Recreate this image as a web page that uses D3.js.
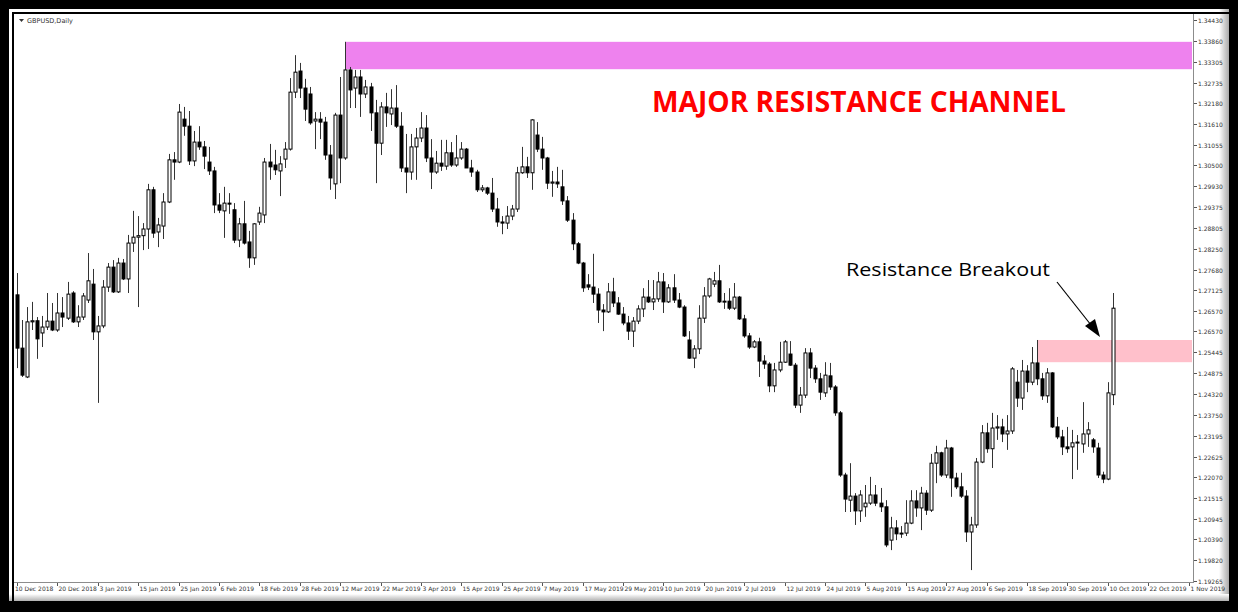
<!DOCTYPE html>
<html><head><meta charset="utf-8">
<script src="https://cdn.jsdelivr.net/npm/d3@7"></script>
<style>html,body{margin:0;padding:0;background:#000;overflow:hidden}svg{display:block}</style>
</head><body>
<svg id="c" width="1238" height="612"></svg>
<script>
// ---- data (GBPUSD, Daily) ----
const symbolTitle = "GBPUSD,Daily";
const xTickLabels = ["10 Dec 2018","20 Dec 2018","3 Jan 2019","15 Jan 2019","25 Jan 2019","6 Feb 2019","18 Feb 2019","28 Feb 2019","12 Mar 2019","22 Mar 2019","3 Apr 2019","15 Apr 2019","25 Apr 2019","7 May 2019","17 May 2019","29 May 2019","10 Jun 2019","20 Jun 2019","2 Jul 2019","12 Jul 2019","24 Jul 2019","5 Aug 2019","15 Aug 2019","27 Aug 2019","6 Sep 2019","18 Sep 2019","30 Sep 2019","10 Oct 2019","22 Oct 2019","1 Nov 2019"];
const barsPerXTick = 8;
const yTickValues = [1.34430,1.33860,1.33305,1.32735,1.32180,1.31610,1.31055,1.30500,1.29930,1.29375,1.28805,1.28250,1.27680,1.27125,1.26570,1.26010,1.25445,1.24875,1.24320,1.23750,1.23195,1.22625,1.22070,1.21515,1.20945,1.20390,1.19820,1.19265];
const yTickLabels = ["1.34430","1.33860","1.33305","1.32735","1.32180","1.31610","1.31055","1.30500","1.29930","1.29375","1.28805","1.28250","1.27680","1.27125","1.26570","1.26570","1.25445","1.24875","1.24320","1.23750","1.23195","1.22625","1.22070","1.21515","1.20945","1.20390","1.19820","1.19265"];

const open = [1.2700,1.2556,1.2478,1.2627,1.2630,1.2597,1.2613,1.2629,1.2605,1.2651,1.2637,1.2705,1.2627,1.2640,1.2686,1.2729,1.2600,1.2616,1.2721,1.2775,1.2708,1.2786,1.2743,1.2840,1.2856,1.2860,1.2878,1.2984,1.2870,1.2886,1.2951,1.3065,1.3059,1.3175,1.3156,1.3062,1.3113,1.3100,1.3059,1.3035,1.2943,1.2927,1.2948,1.2930,1.2848,1.2892,1.2843,1.2800,1.2897,1.2916,1.3059,1.3051,1.3035,1.3067,1.3094,1.3248,1.3305,1.3259,1.3243,1.3170,1.3175,1.3167,1.3078,1.3000,1.3186,1.3070,1.3308,1.3259,1.3289,1.3243,1.3262,1.3192,1.3110,1.3208,1.3189,1.3205,1.3156,1.3043,1.3032,1.3100,1.3124,1.3151,1.3070,1.3032,1.3056,1.3048,1.3084,1.3051,1.3070,1.3094,1.3043,1.3032,1.2984,1.2989,1.2975,1.2932,1.2897,1.2894,1.2913,1.2932,1.3030,1.3046,1.3030,1.3132,1.3094,1.3070,1.3002,1.3005,1.2992,1.2954,1.2902,1.2838,1.2786,1.2727,1.2721,1.2702,1.2659,1.2654,1.2708,1.2678,1.2648,1.2624,1.2602,1.2629,1.2662,1.2694,1.2681,1.2689,1.2735,1.2681,1.2719,1.2686,1.2667,1.2578,1.2529,1.2554,1.2637,1.2697,1.2729,1.2738,1.2681,1.2683,1.2664,1.2694,1.2635,1.2589,1.2559,1.2573,1.2521,1.2513,1.2454,1.2497,1.2518,1.2540,1.2510,1.2402,1.2429,1.2543,1.2502,1.2473,1.2435,1.2481,1.2451,1.2381,1.2213,1.2145,1.2156,1.2116,1.2127,1.2137,1.2159,1.2137,1.2127,1.2037,1.2070,1.2054,1.2056,1.2083,1.2143,1.2124,1.2164,1.2118,1.2245,1.2273,1.2213,1.2286,1.2205,1.2181,1.2156,1.2059,1.2078,1.2248,1.2327,1.2284,1.2340,1.2343,1.2324,1.2332,1.2464,1.2421,1.2494,1.2464,1.2516,1.2473,1.2427,1.2489,1.2343,1.2316,1.2289,1.2289,1.2300,1.2297,1.2324,1.2308,1.2286,1.2213,1.2202,1.2430];
const high = [1.2759,1.2632,1.2667,1.2681,1.2640,1.2643,1.2705,1.2678,1.2705,1.2694,1.2735,1.2710,1.2672,1.2705,1.2813,1.2770,1.2643,1.2740,1.2786,1.2794,1.2800,1.2797,1.2862,1.2927,1.2913,1.2894,1.3000,1.2992,1.2908,1.2975,1.3081,1.3086,1.3216,1.3208,1.3197,1.3143,1.3156,1.3116,1.3100,1.3046,1.2975,1.2992,1.2975,1.2948,1.2908,1.2954,1.2873,1.2894,1.2938,1.3070,1.3108,1.3092,1.3075,1.3113,1.3286,1.3348,1.3327,1.3284,1.3262,1.3194,1.3194,1.3181,1.3105,1.3192,1.3289,1.3384,1.3316,1.3308,1.3308,1.3281,1.3273,1.3227,1.3221,1.3246,1.3256,1.3267,1.3194,1.3135,1.3135,1.3151,1.3194,1.3186,1.3121,1.3089,1.3119,1.3119,1.3113,1.3132,1.3113,1.3097,1.3065,1.3038,1.2997,1.2992,1.3016,1.2962,1.2913,1.2940,1.2943,1.3046,1.3100,1.3073,1.3175,1.3167,1.3127,1.3073,1.3035,1.3046,1.3038,1.2967,1.2921,1.2843,1.2789,1.2756,1.2811,1.2718,1.2675,1.2732,1.2746,1.2694,1.2667,1.2643,1.2640,1.2672,1.2718,1.2740,1.2740,1.2762,1.2759,1.2729,1.2756,1.2705,1.2672,1.2602,1.2564,1.2672,1.2721,1.2746,1.2762,1.2781,1.2705,1.2718,1.2732,1.2697,1.2646,1.2597,1.2578,1.2584,1.2537,1.2518,1.2516,1.2573,1.2578,1.2575,1.2516,1.2451,1.2556,1.2556,1.2510,1.2489,1.2518,1.2516,1.2456,1.2386,1.2219,1.2245,1.2164,1.2172,1.2186,1.2208,1.2186,1.2178,1.2145,1.2100,1.2091,1.2075,1.2145,1.2172,1.2172,1.2181,1.2172,1.2270,1.2292,1.2276,1.2308,1.2289,1.2219,1.2219,1.2172,1.2100,1.2259,1.2348,1.2354,1.2381,1.2375,1.2365,1.2375,1.2505,1.2497,1.2524,1.2510,1.2559,1.2578,1.2489,1.2502,1.2491,1.2370,1.2335,1.2343,1.2335,1.2321,1.2410,1.2356,1.2313,1.2300,1.2222,1.2464,1.2705];
const low = [1.2502,1.2478,1.2475,1.2605,1.2527,1.2559,1.2605,1.2602,1.2600,1.2613,1.2632,1.2624,1.2613,1.2632,1.2678,1.2578,1.2408,1.2610,1.2708,1.2705,1.2705,1.2740,1.2705,1.2816,1.2667,1.2821,1.2824,1.2854,1.2829,1.2851,1.2948,1.3011,1.3056,1.3130,1.3051,1.3048,1.3092,1.3040,1.3024,1.2921,1.2921,1.2854,1.2919,1.2840,1.2829,1.2836,1.2773,1.2781,1.2889,1.2894,1.3011,1.3024,1.2967,1.3043,1.3090,1.3232,1.3232,1.3170,1.3160,1.3094,1.3121,1.3065,1.2984,1.2959,1.3002,1.3065,1.3205,1.3205,1.3181,1.3232,1.3143,1.3002,1.3078,1.3154,1.3159,1.3151,1.3032,1.2975,1.3011,1.3011,1.3113,1.3059,1.2986,1.3027,1.3035,1.3038,1.3046,1.3046,1.3065,1.3043,1.3019,1.2978,1.2978,1.2970,1.2924,1.2884,1.2864,1.2878,1.2902,1.2924,1.3027,1.3016,1.2984,1.3086,1.3038,1.2986,1.2965,1.2989,1.2943,1.2897,1.2821,1.2783,1.2708,1.2713,1.2678,1.2624,1.2602,1.2651,1.2667,1.2646,1.2618,1.2578,1.2559,1.2621,1.2640,1.2678,1.2659,1.2681,1.2651,1.2678,1.2678,1.2664,1.2586,1.2527,1.2502,1.2540,1.2624,1.2692,1.2721,1.2678,1.2662,1.2659,1.2659,1.2632,1.2584,1.2554,1.2556,1.2478,1.2500,1.2437,1.2437,1.2491,1.2516,1.2508,1.2394,1.2381,1.2421,1.2475,1.2462,1.2416,1.2424,1.2443,1.2373,1.2208,1.2113,1.2113,1.2078,1.2086,1.2100,1.2132,1.2129,1.2113,1.2018,1.2010,1.2037,1.2043,1.2048,1.2080,1.2100,1.2064,1.2105,1.2113,1.2191,1.2208,1.2205,1.2154,1.2175,1.2151,1.2032,1.1956,1.2070,1.2245,1.2273,1.2232,1.2308,1.2302,1.2281,1.2324,1.2397,1.2389,1.2437,1.2456,1.2456,1.2416,1.2408,1.2340,1.2310,1.2267,1.2273,1.2202,1.2227,1.2273,1.2289,1.2273,1.2205,1.2191,1.2199,1.2402];
const close = [1.2556,1.2483,1.2627,1.2630,1.2581,1.2613,1.2629,1.2605,1.2651,1.2640,1.2702,1.2627,1.2640,1.2697,1.2738,1.2600,1.2616,1.2721,1.2775,1.2708,1.2786,1.2743,1.2840,1.2856,1.2860,1.2878,1.2984,1.2867,1.2889,1.2951,1.3065,1.3059,1.3194,1.3156,1.3062,1.3113,1.3100,1.3075,1.3035,1.2943,1.2929,1.2948,1.2946,1.2848,1.2892,1.2840,1.2800,1.2892,1.2921,1.3059,1.3046,1.3038,1.3054,1.3094,1.3248,1.3302,1.3259,1.3202,1.3165,1.3175,1.3167,1.3078,1.3016,1.3186,1.3070,1.3308,1.3254,1.3289,1.3243,1.3262,1.3192,1.3110,1.3208,1.3192,1.3205,1.3156,1.3043,1.3032,1.3100,1.3124,1.3151,1.3070,1.3032,1.3056,1.3048,1.3084,1.3051,1.3070,1.3094,1.3043,1.3032,1.2984,1.2989,1.2975,1.2932,1.2897,1.2894,1.2913,1.2932,1.3030,1.3046,1.3030,1.3173,1.3094,1.3070,1.3002,1.3005,1.3000,1.2954,1.2902,1.2838,1.2786,1.2719,1.2721,1.2702,1.2659,1.2654,1.2708,1.2678,1.2648,1.2624,1.2602,1.2629,1.2662,1.2694,1.2681,1.2689,1.2735,1.2681,1.2719,1.2686,1.2667,1.2589,1.2529,1.2554,1.2637,1.2697,1.2743,1.2738,1.2681,1.2683,1.2664,1.2694,1.2635,1.2589,1.2559,1.2573,1.2521,1.2513,1.2454,1.2497,1.2518,1.2573,1.2510,1.2402,1.2429,1.2543,1.2502,1.2473,1.2437,1.2483,1.2451,1.2381,1.2213,1.2148,1.2156,1.2116,1.2159,1.2137,1.2159,1.2137,1.2127,1.2024,1.2070,1.2054,1.2056,1.2083,1.2143,1.2124,1.2164,1.2118,1.2245,1.2273,1.2213,1.2286,1.2205,1.2181,1.2156,1.2059,1.2078,1.2248,1.2327,1.2284,1.2340,1.2343,1.2324,1.2332,1.2500,1.2421,1.2494,1.2464,1.2516,1.2473,1.2427,1.2489,1.2343,1.2316,1.2289,1.2284,1.2300,1.2302,1.2324,1.2335,1.2289,1.2213,1.2202,1.2435,1.2664];

// zones drawn on the chart: [bottom price, top price], starting bar index
const channelLevels = [1.3310, 1.3384];
const channelStartBar = 65;
const breakoutLevels = [1.2518, 1.2578];
const breakoutStartBar = 202;
const titleText = "MAJOR RESISTANCE CHANNEL";
const noteText = "Resistance Breakout";

// ---- layout ----
const W = 1238, H = 612;
const plot = {left: 14, top: 14, right: 1194, bottom: 583};
const svg = d3.select("#c");

svg.append("rect").attr("x",0).attr("y",0).attr("width",W).attr("height",H).attr("fill","#000");
svg.append("rect").attr("x",9).attr("y",9).attr("width",1220).attr("height",592).attr("fill","#fff");
// right bevel shading
const grad = svg.append("defs").append("linearGradient").attr("id","bev").attr("x1","0").attr("x2","1");
grad.append("stop").attr("offset","0").attr("stop-color","#ffffff");
grad.append("stop").attr("offset","1").attr("stop-color","#a9a9a9");
svg.append("rect").attr("x",1219).attr("y",9).attr("width",10).attr("height",592).attr("fill","url(#bev)");
const gradB = svg.select("defs").append("linearGradient").attr("id","bevB").attr("x1","0").attr("x2","0").attr("y1","0").attr("y2","1");
gradB.append("stop").attr("offset","0").attr("stop-color","#ffffff");
gradB.append("stop").attr("offset","1").attr("stop-color","#b0b0b0");
svg.append("rect").attr("x",9).attr("y",594).attr("width",1220).attr("height",7).attr("fill","url(#bevB)");

// outer chart frame lines
svg.append("line").attr("x1",12).attr("x2",1229).attr("y1",13).attr("y2",13).attr("stroke","#000").attr("stroke-width",2);
svg.append("line").attr("x1",13).attr("x2",13).attr("y1",12).attr("y2",601).attr("stroke","#000").attr("stroke-width",2);

const nBars = open.length;
const x = d3.scaleLinear().domain([0, 232]).range([17, 17 + 5.05 * 232]);
const y = d3.scaleLinear().domain([1.19265, 1.34430]).range([581, 20]);

// zones
svg.append("rect")
  .attr("x", x(channelStartBar)).attr("y", y(channelLevels[1]))
  .attr("width", plot.right - 2 - x(channelStartBar))
  .attr("height", y(channelLevels[0]) - y(channelLevels[1]))
  .attr("fill", "#ee82ee");
svg.append("rect")
  .attr("x", x(breakoutStartBar)).attr("y", y(breakoutLevels[1]))
  .attr("width", plot.right - 2 - x(breakoutStartBar))
  .attr("height", y(breakoutLevels[0]) - y(breakoutLevels[1]))
  .attr("fill", "#ffc0cb");

// plot border (right price-axis line and bottom date-axis line)
svg.append("line").attr("x1",plot.right-0.5).attr("x2",plot.right-0.5).attr("y1",14).attr("y2",plot.bottom).attr("stroke","#8c8c8c").attr("stroke-width",1);
svg.append("line").attr("x1",14).attr("x2",plot.right).attr("y1",plot.bottom-0.5).attr("y2",plot.bottom-0.5).attr("stroke","#8c8c8c").attr("stroke-width",1);

// candles
const bars = d3.range(nBars).map(i => ({i, o: open[i], h: high[i], l: low[i], c: close[i]}));
const g = svg.append("g");
g.selectAll("line.wick").data(bars).join("line")
  .attr("class","wick")
  .attr("x1", d => Math.round(x(d.i)) + 0.5).attr("x2", d => Math.round(x(d.i)) + 0.5)
  .attr("y1", d => y(d.h)).attr("y2", d => y(d.l))
  .attr("stroke", "#333").attr("stroke-width", 1);
g.selectAll("rect.body").data(bars).join("rect")
  .attr("class","body")
  .attr("x", d => Math.round(x(d.i)) - 1)
  .attr("y", d => y(Math.max(d.o, d.c)))
  .attr("width", 3)
  .attr("height", d => Math.max(1, Math.abs(y(d.o) - y(d.c))))
  .attr("fill", d => d.c >= d.o ? "#fff" : "#000")
  .attr("stroke", "#000").attr("stroke-width", 1);

// y axis labels
const yAx = svg.append("g").attr("font-family","DejaVu Sans, sans-serif").attr("font-size","6px").attr("fill","#333");
yTickValues.forEach((v, k) => {
  const yy = Math.round(y(v)) + 0.5;
  yAx.append("line").attr("x1",plot.right).attr("x2",plot.right+3).attr("y1",yy).attr("y2",yy).attr("stroke","#555");
  yAx.append("text").attr("x",plot.right+4).attr("y",yy+2).text(yTickLabels[k]);
});

// x axis labels
const xAx = svg.append("g").attr("font-family","DejaVu Sans, sans-serif").attr("font-size","6px").attr("fill","#333");
xTickLabels.forEach((lab, k) => {
  const xx = Math.round(x(k * barsPerXTick)) + 0.5;
  xAx.append("line").attr("x1",xx).attr("x2",xx).attr("y1",plot.bottom).attr("y2",plot.bottom+3).attr("stroke","#555");
  xAx.append("text").attr("x", k === 0 ? 15 : xx + 1).attr("y", plot.bottom + 8).text(lab);
});

// symbol title
svg.append("path").attr("d","M19,19 L24,19 L21.5,22 Z").attr("fill","#333");
svg.append("text").attr("x",27).attr("y",23).attr("font-family","DejaVu Sans, sans-serif").attr("font-size","6.5px").attr("fill","#333").text(symbolTitle);

// annotations
svg.append("text").attr("x",652).attr("y",112)
  .attr("font-family","Open Sans, sans-serif").attr("font-weight","bold").attr("font-size","28px")
  .attr("fill","#ff0000").attr("textLength",414).attr("lengthAdjust","spacingAndGlyphs").text(titleText);
svg.append("text").attr("x",846).attr("y",276)
  .attr("font-family","Open Sans, sans-serif").attr("font-size","19px")
  .attr("fill","#000").attr("textLength",204).attr("lengthAdjust","spacingAndGlyphs").text(noteText);

// arrow
svg.append("line").attr("x1",1057).attr("y1",282).attr("x2",1091).attr("y2",325).attr("stroke","#000").attr("stroke-width",1.2);
svg.append("path").attr("d","M1100,337 L1085,326 L1095,319 Z").attr("fill","#000");
</script>
</body></html>
